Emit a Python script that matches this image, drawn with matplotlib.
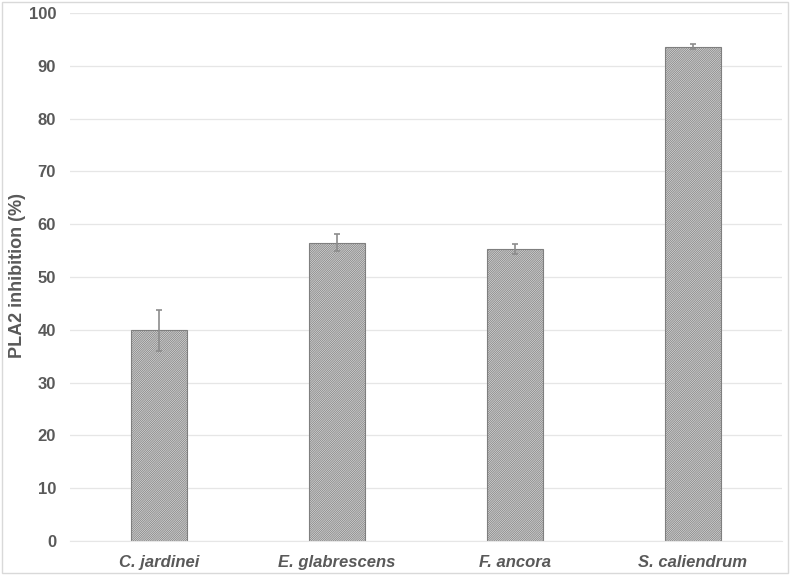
import matplotlib.pyplot as plt
from matplotlib.patches import Rectangle

plt.rcParams['font.family'] = ['Liberation Sans', 'DejaVu Sans']
plt.rcParams['hatch.linewidth'] = 0.6
plt.rcParams['hatch.color'] = '#606060'

species = ["C. jardinei", "E. glabrescens", "F. ancora", "S. caliendrum"]
inhibition = [39.9, 56.5, 55.3, 93.6]
errors = [3.9, 1.6, 0.9, 0.5]

fig = plt.figure(figsize=(7.9, 5.75), dpi=100)
ax = fig.add_axes([70 / 790, 34 / 575, 712 / 790, 528 / 575])

x = range(len(species))
ax.bar(x, inhibition, width=0.315, color='white', edgecolor='#7f7f7f',
       linewidth=0.8, hatch='/' * 18, zorder=2)
ax.errorbar(x, inhibition, yerr=errors, fmt='none', ecolor='#8c8c8c',
            elinewidth=1.2, capsize=2, capthick=1.2, zorder=3)

ax.set_xlim(-0.5, len(species) - 0.5)
ax.set_ylim(0, 100)
ax.set_yticks(range(0, 101, 10))
ax.set_xticks(list(x))
ax.set_xticklabels(species, fontstyle='italic', fontweight='bold',
                   fontsize=12, color='#595959')
ax.tick_params(axis='y', labelsize=12, labelcolor='#595959', length=0, pad=10)
ax.tick_params(axis='x', length=0, pad=10)
for lab in ax.get_yticklabels():
    lab.set_fontweight('bold')

ax.grid(axis='y', color='#e6e6e6', linewidth=0.9, zorder=0)
for s in ['top', 'right', 'left']:
    ax.spines[s].set_visible(False)
ax.spines['bottom'].set_color('#e6e6e6')

# y label placed by hand so it sits inside the figure border
fig.text(18 / 790, 1 - 276 / 575, "PLA2 inhibition (%)", rotation=90,
         ha='center', va='center', fontsize=13, fontweight='bold', color='#595959')

fig.patches.append(Rectangle((0.003, 0.003), 0.994, 0.994, transform=fig.transFigure,
                             fill=False, edgecolor='#d9d9d9', linewidth=1))

fig.savefig("out.png", dpi=100)
